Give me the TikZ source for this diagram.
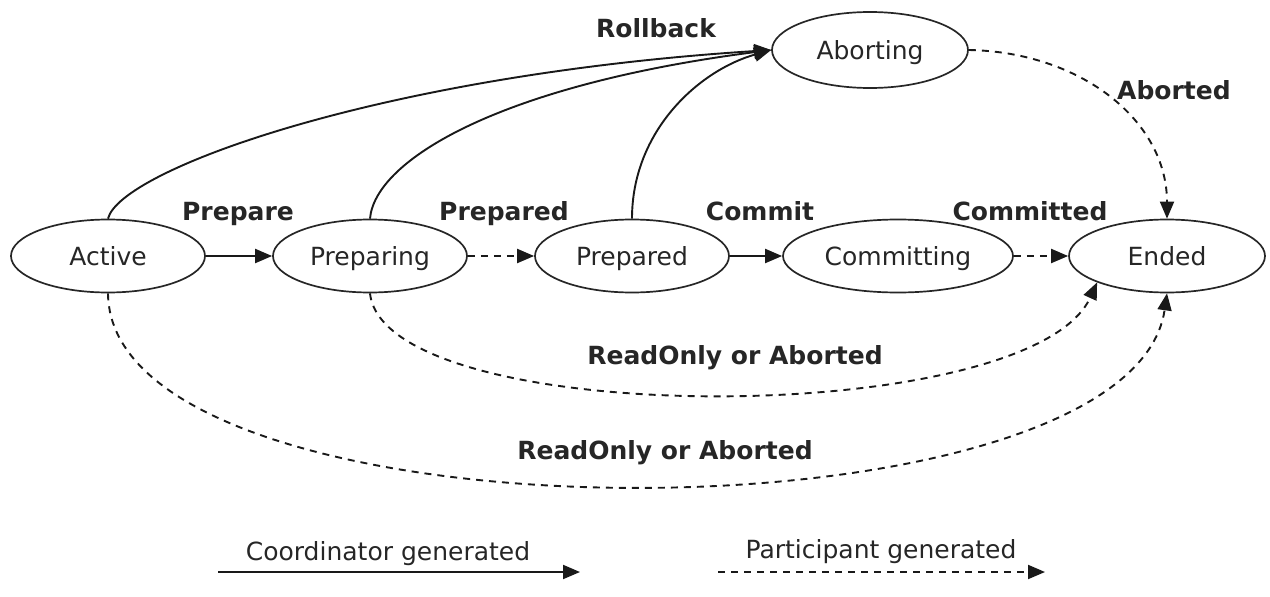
\documentclass[tikz,border=0pt]{standalone}
\usepackage{fontspec}
\setmainfont{DejaVu Sans}
\usetikzlibrary{shapes.geometric,arrows.meta}

\tikzset{
  state/.style={ellipse, draw=black!85, line width=1.7pt, inner sep=0pt,
    minimum width=194pt, minimum height=73pt, font=\fontsize{25}{30}\selectfont,
    text=black!85, text height=18pt, text depth=0pt},
  wide state/.style={state, minimum width=230pt},
  lbl/.style={font=\bfseries\fontsize{25}{30}\selectfont, text=black!85, inner sep=0pt,
    text height=18pt, text depth=0pt},
  plain/.style={font=\fontsize{25}{30}\selectfont, text=black!85, inner sep=0pt,
    text height=18pt, text depth=0pt},
  coord/.style={line width=1.9pt, draw=black!90, -{Triangle[length=17pt,width=14pt]}},
  part/.style={coord, dash pattern=on 7pt off 6pt},
}

\begin{document}
\begin{tikzpicture}[x=1pt,y=-1pt]
  \useasboundingbox (0,0) rectangle (1270,597);

  % states
  \node[state] (act) at (108,256) {Active};
  \node[state] (prg) at (370,256) {Preparing};
  \node[state] (prd) at (632,256) {Prepared};
  \node[wide state] (cmt) at (898,256) {Committing};
  \node[state, minimum width=196pt] (end) at (1167,256) {Ended};
  \node[state, minimum width=196pt, minimum height=76pt] (abt) at (870,50) {Aborting};

  % main flow
  \draw[coord] (act) -- (prg);
  \draw[part]  (prg) -- (prd);
  \draw[coord] (prd) -- (cmt);
  \draw[part]  (cmt) -- (end);

  % rollback paths
  \draw[coord] (act.north) .. controls (120,170) and (380,75) .. (abt.west);
  \draw[coord] (prg.north) .. controls (375,160) and (500,85) .. (abt.west);
  \draw[coord] (prd.north) .. controls (632,130) and (700,70) .. (abt.west);

  % participant outcomes
  \draw[part] (abt.east) .. controls (1080,52) and (1167,120) .. (end.north);
  \draw[part] (prg.south) .. controls (385,430) and (1030,430) .. (end.south west);
  \draw[part] (act.south) .. controls (110,550) and (1130,550) .. (end.south);

  % transition labels
  \node[lbl] (lrb) at (656,28) {Rollback};
  \node[lbl] (lab) at (1174,90) {Aborted};
  \node[lbl] (lpe) at (238,211) {Prepare};
  \node[lbl] (lpd) at (504,211) {Prepared};
  \node[lbl] (lcm) at (760,211) {Commit};
  \node[lbl] (lcd) at (1030,211) {Committed};
  \node[lbl] (lr1) at (735,355) {ReadOnly or Aborted};
  \node[lbl] (lr2) at (665,450) {ReadOnly or Aborted};

  % legend
  \coordinate (c0) at (218,572);
  \coordinate (c1) at (580,572);
  \coordinate (p0) at (718,572);
  \coordinate (p1) at (1045,572);
  \draw[coord] (c0) -- (c1);
  \draw[part]  (p0) -- (p1);
  \node[plain] (lc) at (388,551) {Coordinator generated};
  \node[plain] (lp) at (881,549) {Participant generated};
\end{tikzpicture}
\end{document}
